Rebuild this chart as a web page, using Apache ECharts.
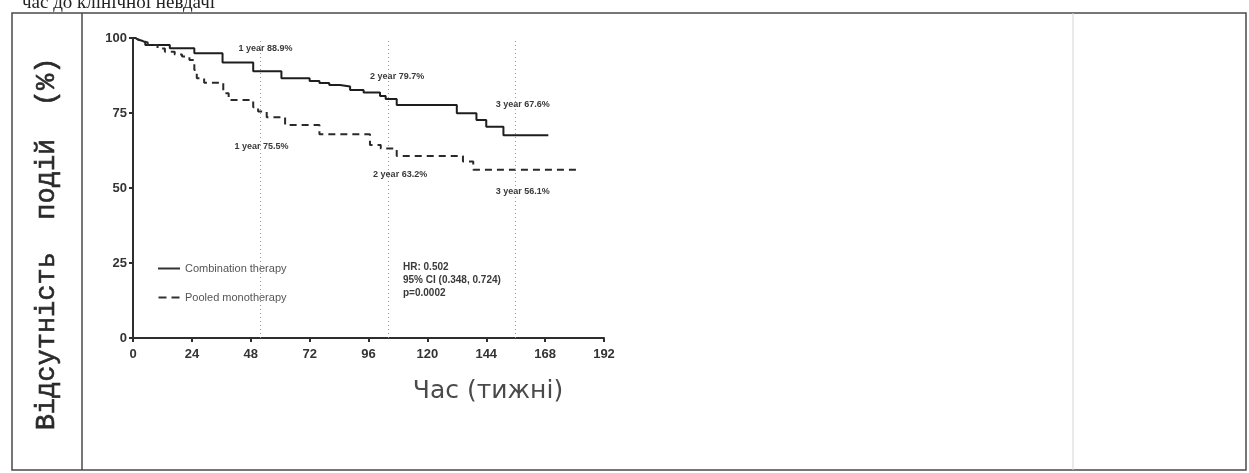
<!DOCTYPE html>
<html>
<head>
<meta charset="utf-8">
<script src="https://cdn.jsdelivr.net/npm/echarts@6/dist/echarts.min.js"></script>
<style>
  html, body { margin: 0; padding: 0; background: #fff; }
  #chart { width: 1249px; height: 473px; }
</style>
</head>
<body>
<div id="chart"></div>
<script>
// Kaplan–Meier curves: event-free survival (%) by week
const comboWeeks = [0, 1, 2, 4, 5, 15, 25, 36.5, 49, 60.5, 72, 76, 80, 84.4, 88.5, 94, 100.7, 103, 107.5, 132, 140, 144, 151, 169.3];
const comboSurv  = [100, 99.5, 99, 98.5, 97.7, 96.6, 94.9, 91.8, 88.9, 86.6, 85.7, 85.0, 84.3, 83.8, 82.7, 81.8, 80.7, 79.7, 77.7, 74.9, 72.7, 70.4, 67.6, 67.6];

const pooledWeeks = [0, 1, 2, 4, 6, 10, 13, 17, 20, 23, 25, 26, 29, 36.8, 39, 49, 51, 54.5, 62, 76, 96.6, 101, 107.5, 134.5, 138.7, 181];
const pooledSurv  = [100, 99.5, 99, 98.5, 97.7, 96.5, 95.4, 94.5, 93.8, 92.7, 89.3, 86.6, 85.1, 81.6, 79.3, 76.9, 75.5, 73.6, 71.0, 67.9, 64.3, 63.2, 60.7, 58.8, 56.1, 56.1];

// Landmark times (weeks) and survival at each landmark
const landmarkWeeks = [52, 104, 156];
const landmarkNames = ['1 year', '2 year', '3 year'];
const comboLandmark = [88.9, 79.7, 67.6];
const pooledLandmark = [75.5, 63.2, 56.1];

const xTicks = [0, 24, 48, 72, 96, 120, 144, 168, 192];
const yTicks = [0, 25, 50, 75, 100];

const seriesNames = ['Combination therapy', 'Pooled monotherapy'];
const statsLines = ['HR: 0.502', '95% CI (0.348, 0.724)', 'p=0.0002'];

const titleText = 'час до клінічної невдачі';
const yTitle = 'Відсутність  подій  (%)';
const xTitle = 'Час (тижні)';

const pair = (xs, ys) => xs.map((x, i) => [x, ys[i]]);

const narrow = "'Liberation Sans Narrow', 'Liberation Sans', Arial, sans-serif";

const comboLabelOffsets = [[5, -23], [9, -22], [7, -31]];
const pooledLabelOffsets = [[1, 35], [12, 26], [7, 22]];

function landmarkPoints(values, offsets) {
  return landmarkWeeks.map((w, i) => ({
    coord: [w, values[i]],
    label: {
      formatter: landmarkNames[i] + ' ' + values[i].toFixed(1) + '%',
      offset: offsets[i]
    }
  }));
}

const markPointBase = {
  symbol: 'circle',
  symbolSize: 1,
  silent: true,
  itemStyle: { color: 'rgba(0,0,0,0)' },
  label: {
    show: true,
    position: 'inside',
    color: '#3a3a3a',
    fontSize: 9,
    fontWeight: 'bold',
    fontFamily: narrow
  }
};

// legend glyphs: a solid stroke and a two-dash stroke
const solidIcon = 'path://M0,0 H22 V2 H0 Z';
const dashedIcon = 'path://M0,0 H8 V2 H0 Z M13,0 H21 V2 H13 Z';

const chart = echarts.init(document.getElementById('chart'), null, { renderer: 'canvas' });

chart.setOption({
  animation: false,
  backgroundColor: '#ffffff',
  grid: { left: 133, right: 645, top: 38, bottom: 135 },
  xAxis: {
    type: 'value',
    min: 0, max: 192, interval: 24,
    splitLine: { show: false },
    axisLine: { lineStyle: { color: '#2e2e2e', width: 2 } },
    axisTick: { show: true, length: 4, lineStyle: { color: '#2e2e2e', width: 2 } },
    axisLabel: {
      color: '#333', fontSize: 13, fontWeight: 'bold', margin: 10,
      fontFamily: "'Liberation Sans', Arial, sans-serif",
      formatter: v => xTicks.includes(v) ? String(v) : ''
    }
  },
  yAxis: {
    type: 'value',
    min: 0, max: 100, interval: 25,
    splitLine: { show: false },
    axisLine: { show: true, lineStyle: { color: '#2e2e2e', width: 2 } },
    axisTick: { show: true, length: 4, lineStyle: { color: '#2e2e2e', width: 2 } },
    axisLabel: {
      color: '#333', fontSize: 13, fontWeight: 'bold', margin: 6,
      fontFamily: "'Liberation Sans', Arial, sans-serif",
      formatter: v => yTicks.includes(v) ? String(v) : ''
    }
  },
  legend: {
    orient: 'vertical',
    left: 153, top: 258,
    itemWidth: 22, itemHeight: 2,
    itemGap: 18,
    selectedMode: false,
    textStyle: { color: '#555', fontSize: 11, fontFamily: narrow },
    data: [
      { name: seriesNames[0], icon: solidIcon, itemStyle: { color: '#333' } },
      { name: seriesNames[1], icon: dashedIcon, itemStyle: { color: '#333' } }
    ]
  },
  series: [
    {
      name: seriesNames[0],
      type: 'line',
      step: 'end',
      symbol: 'none',
      data: pair(comboWeeks, comboSurv),
      lineStyle: { color: '#1e1e1e', width: 2 },
      itemStyle: { color: '#1e1e1e' },
      markLine: {
        silent: true,
        symbol: 'none',
        label: { show: false },
        lineStyle: { color: '#9a9a9a', type: [1, 3], width: 1 },
        data: landmarkWeeks.map(w => ({ xAxis: w }))
      },
      markPoint: Object.assign({}, markPointBase, { data: landmarkPoints(comboLandmark, comboLabelOffsets) })
    },
    {
      name: seriesNames[1],
      type: 'line',
      step: 'end',
      symbol: 'none',
      data: pair(pooledWeeks, pooledSurv),
      lineStyle: { color: '#2a2a2a', width: 2, type: [7, 5] },
      itemStyle: { color: '#2a2a2a' },
      markPoint: Object.assign({}, markPointBase, { data: landmarkPoints(pooledLandmark, pooledLabelOffsets) })
    }
  ],
  graphic: [
    // table cell borders
    { type: 'rect', shape: { x: 12, y: 13, width: 1234, height: 457 }, style: { fill: 'none', stroke: '#4a4a4a', lineWidth: 1.5 }, silent: true, z: -1 },
    { type: 'line', shape: { x1: 82, y1: 13, x2: 82, y2: 470 }, style: { stroke: '#4a4a4a', lineWidth: 1.5 }, silent: true, z: -1 },
    { type: 'line', shape: { x1: 1073, y1: 13, x2: 1073, y2: 470 }, style: { stroke: '#d4d4d4', lineWidth: 1 }, silent: true, z: -1 },
    // caption line above the table, cut by the page edge
    { type: 'text', x: 22, y: 13, style: { text: titleText, fill: '#222', verticalAlign: 'bottom', font: "19px 'Liberation Serif', 'Times New Roman', serif" }, silent: true },
    // vertical axis title
    {
      type: 'text', x: 47, y: 244, rotation: Math.PI / 2,
      style: { text: yTitle, fill: '#2a2a2a', stroke: '#2a2a2a', lineWidth: 0.6, align: 'center', verticalAlign: 'middle', font: "27px 'Liberation Mono', 'Courier New', monospace" },
      silent: true
    },
    // horizontal axis title
    {
      type: 'text', x: 488, y: 391,
      style: { text: xTitle, fill: '#4a4a4a', align: 'center', verticalAlign: 'middle', font: "25px 'DejaVu Sans', Verdana, sans-serif" },
      silent: true
    },
    // hazard ratio summary
    {
      type: 'text', x: 403, y: 261,
      style: { text: statsLines.join('\n'), fill: '#3a3a3a', lineHeight: 13, font: "bold 10px " + narrow },
      silent: true
    }
  ]
});
</script>
</body>
</html>
